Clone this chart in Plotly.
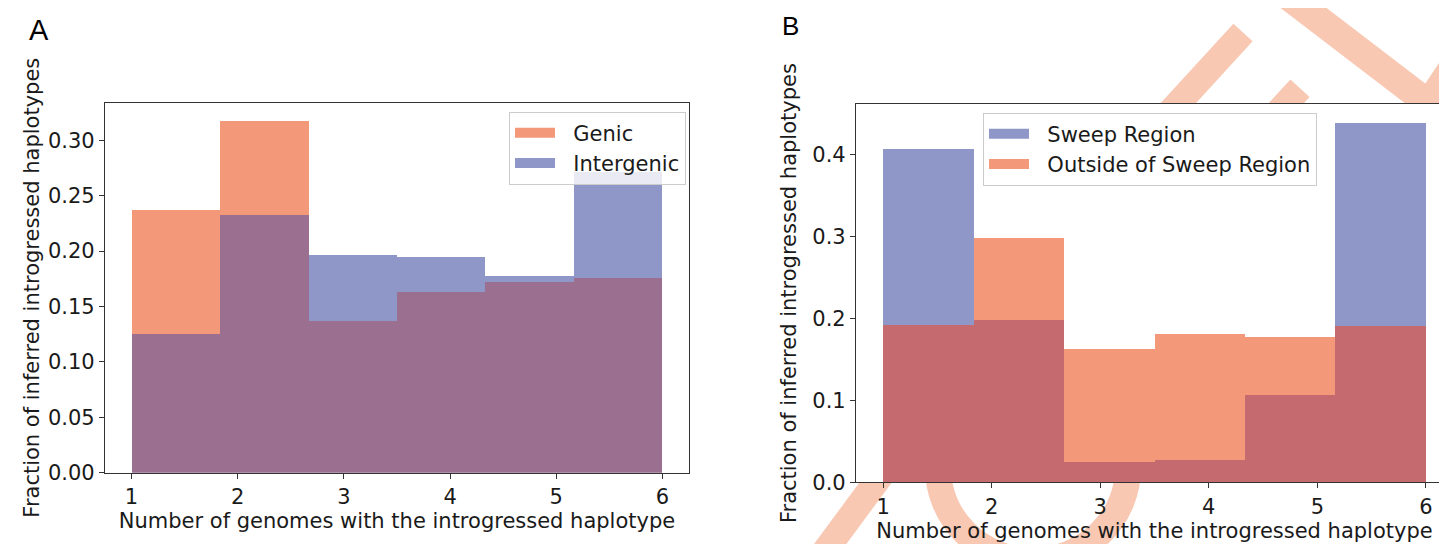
import plotly.graph_objects as go

# ---------------- data ----------------
genome_min, genome_max, n_bins = 1, 6, 6
x_ticks = [1, 2, 3, 4, 5, 6]

genic = [0.237, 0.318, 0.137, 0.163, 0.172, 0.176]
intergenic = [0.125, 0.233, 0.197, 0.195, 0.178, 0.272]

sweep = [0.407, 0.198, 0.025, 0.027, 0.107, 0.439]
outside = [0.192, 0.299, 0.163, 0.181, 0.178, 0.191]

yticks_a = [0.00, 0.05, 0.10, 0.15, 0.20, 0.25, 0.30]
yticks_b = [0.0, 0.1, 0.2, 0.3, 0.4]

# ---------------- style ----------------
W, H = 1447, 544
ORANGE = "#F4987A"
BLUE = "#8F96C8"
PURPLE = "#9A6F90"
RED = "#C56A6E"
STROKE = "#F8C8B2"
FONT = "DejaVu Sans"
AX = "#333333"
FS = 21
PAD = "\u00a0\u00a0"

bw = (genome_max - genome_min) / n_bins
centers = [genome_min + (i + 0.5) * bw for i in range(n_bins)]

fig = go.Figure()

def bars(vals, color, xa, ya):
    fig.add_trace(go.Bar(x=centers, y=vals, width=bw, marker=dict(color=color, line=dict(width=0)),
                         showlegend=False, xaxis=xa, yaxis=ya, hoverinfo="skip"))

def legend_item(name, color, leg):
    fig.add_trace(go.Scatter(x=[None], y=[None], mode="lines", name=PAD + name,
                             line=dict(color=color, width=14), legend=leg,
                             xaxis="x", yaxis="y"))

# Panel A: Genic first, Intergenic on top
bars(genic, ORANGE, "x", "y")
bars(intergenic, BLUE, "x", "y")
bars([min(a, b) for a, b in zip(genic, intergenic)], PURPLE, "x", "y")
# Panel B: Sweep first, Outside on top
bars(sweep, BLUE, "x2", "y2")
bars(outside, ORANGE, "x2", "y2")
bars([min(a, b) for a, b in zip(sweep, outside)], RED, "x2", "y2")

legend_item("Genic", ORANGE, "legend")
legend_item("Intergenic", BLUE, "legend")
legend_item("Sweep Region", BLUE, "legend2")
legend_item("Outside of Sweep Region", ORANGE, "legend2")

def P(x, y):
    return x / W, 1 - y / H

tickfont = dict(family=FONT, size=FS, color="#1a1a1a")
axis_common = dict(showline=True, mirror=True, linecolor=AX, linewidth=1.2, ticks="outside",
                   ticklen=5, tickwidth=1.2, tickcolor=AX, showgrid=False, zeroline=False,
                   tickfont=tickfont)

xa0, _ = P(97, 0); xa1, _ = P(681, 0)
_, ya0 = P(0, 475); _, ya1 = P(0, 97)
xb0, _ = P(848, 0); xb1, _ = P(1445, 0)
_, yb0 = P(0, 485); _, yb1 = P(0, 98)

xlabel = "Number of genomes with the introgressed haplotype"
ylabel = "Fraction of inferred introgressed haplotypes"
tfont = dict(family=FONT, size=FS, color="#1a1a1a")

legend_common = dict(bgcolor="rgba(255,255,255,0.8)", bordercolor="#cccccc", borderwidth=1,
                     font=dict(family=FONT, size=FS, color="#1a1a1a"), itemwidth=40)

fig.update_layout(
    width=W, height=H, margin=dict(l=0, r=0, t=0, b=0),
    paper_bgcolor="white", plot_bgcolor="white", barmode="overlay", bargap=0,
    xaxis=dict(domain=[xa0, xa1], range=[0.75, 6.25], tickvals=x_ticks, anchor="y",
               title=dict(text=xlabel, font=tfont, standoff=4), **axis_common),
    yaxis=dict(domain=[ya0, ya1], range=[0, 0.3339], tickvals=yticks_a, tickformat=".2f", anchor="x",
               title=dict(text=ylabel, font=tfont, standoff=2), **axis_common),
    xaxis2=dict(domain=[xb0, xb1], range=[0.75, 6.25], tickvals=x_ticks, anchor="y2",
                title=dict(text=xlabel, font=tfont, standoff=4), **axis_common),
    yaxis2=dict(domain=[yb0, yb1], range=[0, 0.462], tickvals=yticks_b, tickformat=".1f", anchor="x2",
                title=dict(text=ylabel, font=tfont, standoff=9), **axis_common),
    legend=dict(x=P(678, 0)[0], y=P(0, 106)[1], xanchor="right", yanchor="top", **legend_common),
    legend2=dict(x=P(975, 0)[0], y=P(0, 107)[1], xanchor="left", yanchor="top", **legend_common),
    annotations=[
        dict(text="A", x=P(31, 0)[0], y=P(0, 23)[1], xref="paper", yref="paper", showarrow=False,
             xanchor="center", yanchor="middle",
             font=dict(family="Liberation Sans", size=29, color="black")),
        dict(text="B", x=P(782, 0)[0], y=P(0, 18)[1], xref="paper", yref="paper", showarrow=False,
             xanchor="center", yanchor="middle",
             font=dict(family="Liberation Sans", size=26, color="black")),
    ],
)

# decorative background strokes in panel B (drawn behind, hidden under plot area)
def seg(x0, y0, x1, y1, w=26):
    a, b = P(x0, y0); c, d = P(x1, y1)
    return dict(type="line", xref="paper", yref="paper", x0=a, y0=b, x1=c, y1=d,
                line=dict(color=STROKE, width=w), layer="below")

shapes = [
    seg(1235, 25, 1141, 130),
    seg(1292, 82, 1249, 130),
    seg(1270, -20, 1440, 113, 28),
    seg(1480, 5, 1405, 120, 26),
    seg(810, 565, 880, 468),
]
cx0, cy0 = P(930, 375); cx1, cy1 = P(1120, 565)
shapes.append(dict(type="circle", xref="paper", yref="paper", x0=cx0, y0=cy1, x1=cx1, y1=cy0,
                   line=dict(color=STROKE, width=26), layer="below"))
shapes.append(dict(type="rect", xref="paper", yref="paper", x0=xb0, x1=xb1, y0=yb0, y1=yb1,
                   fillcolor="white", line=dict(width=0), layer="below"))
fig.update_layout(shapes=shapes)

fig.write_html("out.html")
